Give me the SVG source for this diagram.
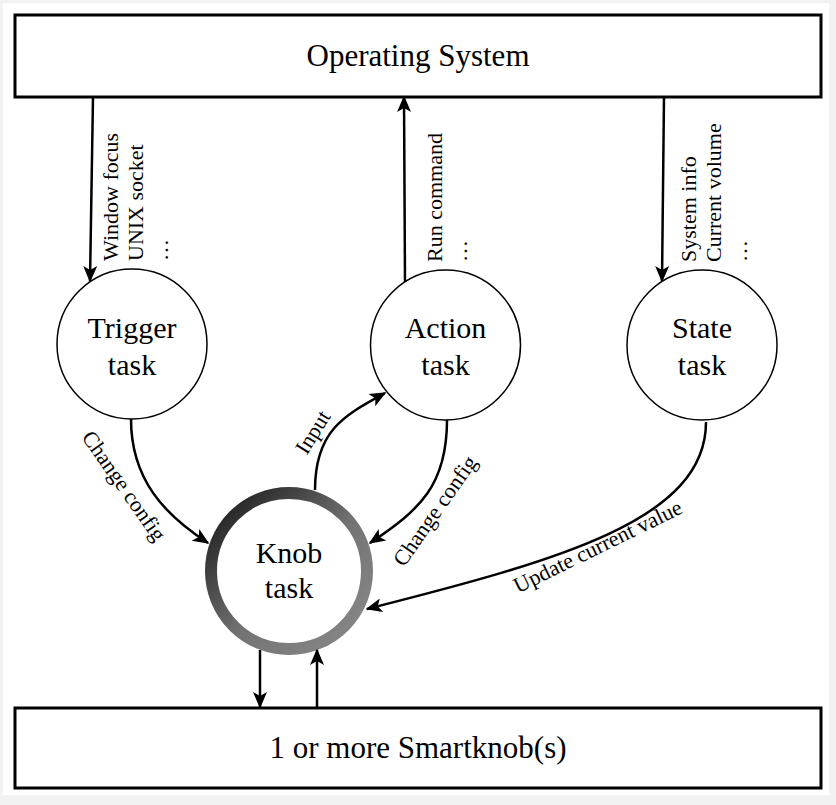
<svg xmlns="http://www.w3.org/2000/svg" width="836" height="805" viewBox="0 0 836 805">
<defs>
<style>
.box{fill:#fff;stroke:#000;stroke-width:3}
.node{fill:#fff;stroke:#000;stroke-width:1.5}
.t{font-family:"Liberation Serif","Times New Roman",serif;fill:#000}
.big{font-size:31px;text-anchor:middle}
.mid{font-size:30px;text-anchor:middle}
.lab{font-size:22px}
.c{fill:none;stroke:#000;stroke-width:2.5;marker-end:url(#ah)}
</style>
<marker id="ah" markerUnits="userSpaceOnUse" markerWidth="22" markerHeight="18" viewBox="-1 -9 20 18" refX="15" refY="0" orient="auto">
<path d="M0,-7 L16.5,0 L0,7 L4,0 Z" fill="#000"/>
</marker>
<linearGradient id="kg" x1="0.1" y1="0.1" x2="0.9" y2="0.9">
<stop offset="0" stop-color="#262626"/>
<stop offset="0.55" stop-color="#737373"/>
<stop offset="1" stop-color="#858585"/>
</linearGradient>
</defs>
<rect x="0" y="0" width="836" height="805" fill="#f2f2f2"/>
<rect x="3" y="3" width="826" height="792" fill="#fff"/>

<g id="os">
<rect class="box" x="15" y="15" width="806" height="82"/>
<text class="t big" x="418" y="66">Operating System</text>
</g>
<g id="smartknob">
<rect class="box" x="15" y="708" width="806" height="80"/>
<text class="t big" x="418" y="758">1 or more Smartknob(s)</text>
</g>
<g id="trigger">
<circle class="node" cx="132" cy="344" r="75"/>
<text class="t mid" x="132" y="338">Trigger</text>
<text class="t mid" x="132" y="375">task</text>
</g>
<g id="action">
<circle class="node" cx="445.5" cy="345" r="75"/>
<text class="t mid" x="445.5" y="338">Action</text>
<text class="t mid" x="445.5" y="375">task</text>
</g>
<g id="state">
<circle class="node" cx="702" cy="345" r="75"/>
<text class="t mid" x="702" y="338">State</text>
<text class="t mid" x="702" y="375">task</text>
</g>
<g id="knob">
<circle cx="289" cy="571" r="78" fill="#fff" stroke="url(#kg)" stroke-width="12"/>
<text class="t mid" x="289" y="563">Knob</text>
<text class="t mid" x="289" y="598">task</text>
</g>

<g id="connectors">
<path class="c" d="M93,97 L90,281"/>
<path class="c" d="M405,282 L404,97"/>
<path class="c" d="M664,97 L662,281"/>
<path class="c" d="M131,419 C131,480 165,515 208,543"/>
<path class="c" d="M315,490 C315,430 345,415 385,393"/>
<path class="c" d="M447,420 C447,485 420,510 370,543"/>
<path class="c" d="M706,422 C706,520 560,560 367,609"/>
<path class="c" d="M260,650 L260,707"/>
<path class="c" d="M317,708 L317,650"/>
</g>

<g id="labels">
<text class="t lab" transform="translate(118,261) rotate(-90)">Window focus</text>
<text class="t lab" transform="translate(143,261) rotate(-90)">UNIX socket</text>
<text class="t lab" transform="translate(168,261) rotate(-90)">…</text>
<text class="t lab" transform="translate(442,262) rotate(-90)">Run command</text>
<text class="t lab" transform="translate(467,262) rotate(-90)">…</text>
<text class="t lab" transform="translate(696,262) rotate(-90)">System info</text>
<text class="t lab" transform="translate(721,262) rotate(-90)">Current volume</text>
<text class="t lab" transform="translate(747,262) rotate(-90)">…</text>
<text class="t lab" text-anchor="middle" transform="translate(118,490) rotate(55)">Change config</text>
<text class="t lab" text-anchor="middle" transform="translate(319,436) rotate(-58)">Input</text>
<text class="t lab" text-anchor="middle" transform="translate(441,515) rotate(-55)">Change config</text>
<text class="t lab" text-anchor="middle" transform="translate(601,553) rotate(-26)">Update current value</text>
</g>
</svg>
